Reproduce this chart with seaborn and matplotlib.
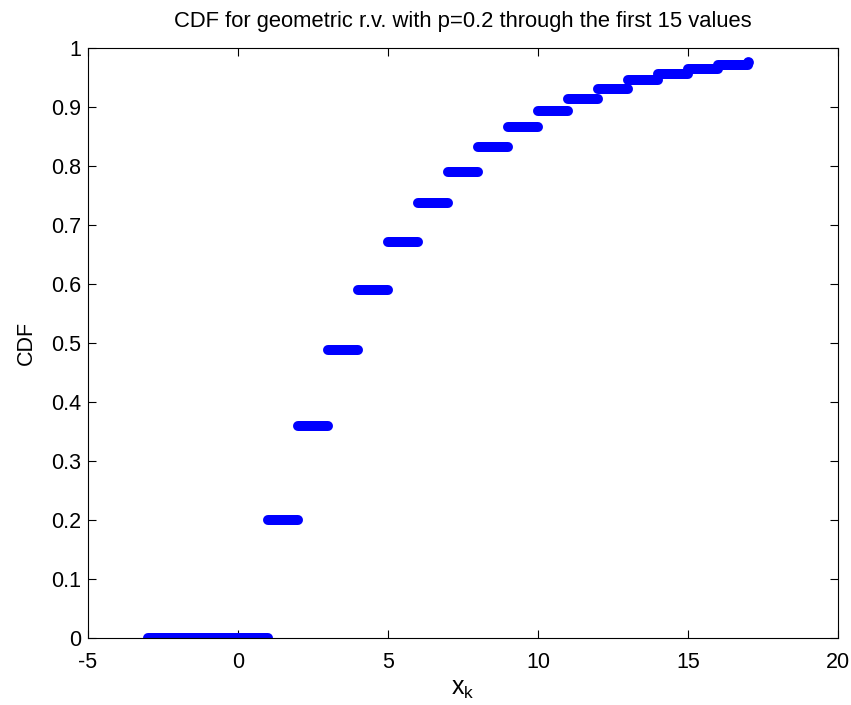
import pandas as pd
import seaborn as sns
import matplotlib
matplotlib.use("Agg")
import matplotlib.pyplot as plt

# step levels of the CDF
step_start = [-3, 1, 2, 3, 4, 5, 6, 7, 8, 9, 10, 11, 12, 13, 14, 15, 16]
step_end = [1, 2, 3, 4, 5, 6, 7, 8, 9, 10, 11, 12, 13, 14, 15, 16, 17]
cdf_level = [0, 0.2, 0.36, 0.488, 0.59, 0.672, 0.738, 0.79, 0.832, 0.866,
             0.893, 0.914, 0.931, 0.945, 0.956, 0.965, 0.972]
last_x = [17]
last_cdf = [0.977]

x_ticks = [-5, 0, 5, 10, 15, 20]
y_ticks = [0, 0.1, 0.2, 0.3, 0.4, 0.5, 0.6, 0.7, 0.8, 0.9, 1]

sns.set_theme(style="ticks")
plt.rcParams['font.family'] = ['Liberation Sans', 'DejaVu Sans']
plt.rcParams['mathtext.default'] = 'regular'
plt.rcParams['text.color'] = 'black'
plt.rcParams['axes.labelcolor'] = 'black'

# long-form table: two rows per step
rows = []
for i, (a, b, v) in enumerate(zip(step_start, step_end, cdf_level)):
    rows.append({"step": i, "x": a, "cdf": v})
    rows.append({"step": i, "x": b, "cdf": v})
df = pd.DataFrame(rows)

fig = plt.figure(figsize=(8.51, 7.05), dpi=100)
ax = fig.add_axes([88 / 851, 67 / 705, 750 / 851, 590 / 705])

sns.lineplot(data=df, x="x", y="cdf", units="step", estimator=None,
             color="#0000ff", linewidth=7.2, solid_capstyle="round",
             sort=False, ax=ax, legend=False)
sns.scatterplot(x=last_x, y=last_cdf, color="#0000ff", s=60,
                linewidth=0, ax=ax, legend=False)

ax.set_xlim(-5, 20)
ax.set_ylim(0, 1)
ax.set_xticks(x_ticks)
ax.set_yticks(y_ticks)
ax.set_xticklabels([f"{t:g}" for t in x_ticks])
ax.set_yticklabels([f"{t:g}" for t in y_ticks])
ax.tick_params(direction="in", length=6, width=0.8, labelsize=15.5,
               top=True, right=True, colors="black")
ax.tick_params(axis="x", pad=10)
ax.tick_params(axis="y", pad=5)
for s in ax.spines.values():
    s.set_visible(True)
    s.set_linewidth(0.8)
    s.set_color("black")

ax.set_title("CDF for geometric r.v. with p=0.2 through the first 15 values",
             fontsize=15.8, pad=15, color="black")
ax.set_xlabel("$x_k$", fontsize=18, labelpad=3)
ax.set_ylabel("CDF", fontsize=15.5, labelpad=10)

fig.savefig("out.png", dpi=100)
